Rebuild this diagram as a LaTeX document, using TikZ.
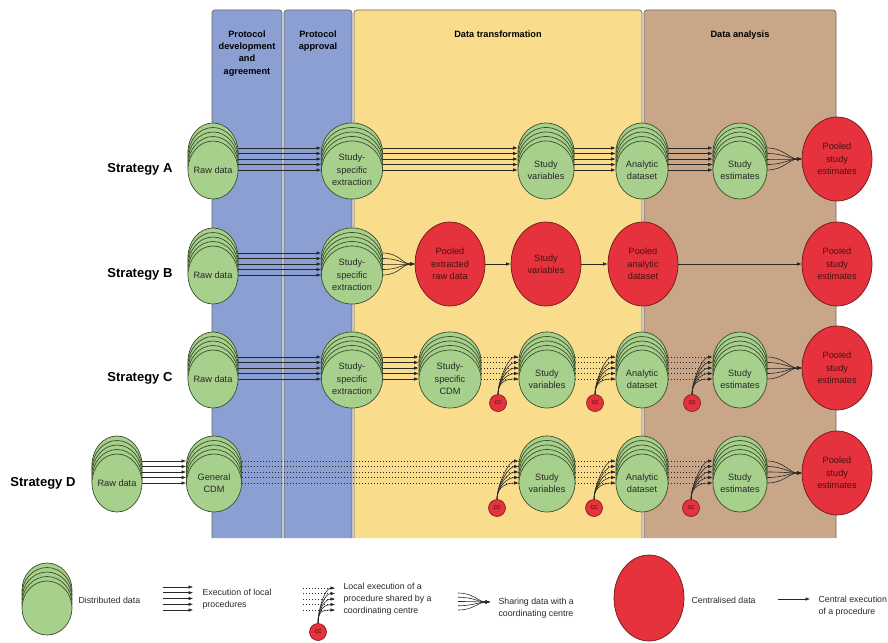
\documentclass[tikz,border=0pt]{standalone}
\usepackage{fontspec}
\setmainfont{Liberation Sans}
\usetikzlibrary{shapes.geometric,shadows,positioning,arrows.meta}

\definecolor{distgreen}{RGB}{168,208,141}
\definecolor{greenedge}{RGB}{60,78,44}
\definecolor{centralred}{RGB}{229,50,60}
\definecolor{rededge}{RGB}{110,25,25}
\definecolor{redtext}{RGB}{70,18,18}
\definecolor{bandblue}{RGB}{139,159,211}
\definecolor{bandyellow}{RGB}{250,221,140}
\definecolor{bandbrown}{RGB}{202,166,137}
\definecolor{bandedge}{RGB}{105,105,105}
\definecolor{inkgrey}{RGB}{40,40,40}

\tikzset{
	band/.style={draw=bandedge, line width=0.7pt},
	header/.style={font=\bfseries\fontsize{9.2}{12.3}\selectfont, align=center, anchor=north},
	strategy/.style={font=\bfseries\fontsize{13}{15}\selectfont, anchor=east},
	backcopy/.style={general shadow={shadow scale=1, shadow xshift=0pt, shadow yshift=#1, fill=distgreen, draw=greenedge}},
	distributed/.style={ellipse, draw=greenedge, fill=distgreen, line width=0.7pt, inner xsep=-6pt, inner ysep=0pt,
		minimum height=58pt, align=center, text=inkgrey, font=\fontsize{9.2}{12.5}\selectfont,
		backcopy=18pt, backcopy=13.5pt, backcopy=9pt, backcopy=4.5pt},
	central/.style={ellipse, draw=rededge, fill=centralred, line width=0.7pt, inner sep=0pt,
		minimum width=70pt, minimum height=84pt, align=center, text=redtext, font=\fontsize{9.2}{12.5}\selectfont},
	ccnode/.style={circle, draw=rededge, fill=centralred, line width=0.6pt, minimum size=17pt, inner sep=0pt,
		text=redtext, font=\fontsize{7}{7}\selectfont},
	localarrow/.style={-{Latex[length=4.5pt,width=3.6pt]}, draw=inkgrey, line width=0.6pt},
	sharedline/.style={draw=inkgrey, line width=0.7pt, dash pattern=on 0.8pt off 2.2pt},
	legendtext/.style={font=\fontsize{8.8}{12}\selectfont, align=left, anchor=west, text=inkgrey}
}

% five parallel local runs
\newcommand{\localrun}[2]{\foreach \k in {0,...,4} \draw[localarrow] ([yshift=\k*5.5pt]#1.east) -- ([yshift=\k*5.5pt]#2.west);}
% local runs of a procedure sent by a coordinating centre
\newcommand{\ccrun}[3]{\foreach \k in {0,...,4} {
		\draw[sharedline] ([yshift=\k*5.5pt]#1.east) -- ([yshift=\k*5.5pt]#3.west);
		\draw[localarrow] (#2.north) .. controls +(0,-14) and +(-10,0) .. ([yshift=\k*5.5pt]#3.west);}}
% sharing with the coordinating centre
\newcommand{\poolrun}[2]{\foreach \k in {0,...,4} \draw[localarrow] ([yshift=\k*5.5pt]#1.east) .. controls +(16,0) and +(-12,0) .. (#2.west);}

\begin{document}
\begin{tikzpicture}[x=1pt,y=-1pt]
	
	\useasboundingbox (0,0) rectangle (888,642);
	
	%Phases
	\draw[band, fill=bandblue] (212,538) {[rounded corners=3pt] -- (212,10) -- (282,10)} -- (282,538);
	\draw[band, fill=bandblue] (284,538) {[rounded corners=3pt] -- (284,10) -- (352,10)} -- (352,538);
	\draw[band, fill=bandyellow] (354,538) {[rounded corners=3pt] -- (354,10) -- (642,10)} -- (642,538);
	\draw[band, fill=bandbrown] (644,538) {[rounded corners=3pt] -- (644,10) -- (836,10)} -- (836,538);
	
	\node[header] (devhead) at (247,27) {Protocol\\development\\and\\agreement};
	\node[header] (apphead) at (318,27) {Protocol\\approval};
	\node[header] (transhead) at (498,27) {Data transformation};
	\node[header] (anahead) at (740,27) {Data analysis};
	
	%Strategy A
	\node[strategy] (labA) at (176,169) {Strategy A};
	\node[distributed, minimum width=50pt] (rawA) at (213,170) {Raw data};
	\node[distributed, minimum width=61pt] (extA) at (352,170) {Study-\\specific\\extraction};
	\node[distributed, minimum width=56pt] (svA) at (546,170) {Study\\variables};
	\node[distributed, minimum width=52pt] (adA) at (642,170) {Analytic\\dataset};
	\node[distributed, minimum width=54pt] (seA) at (740,170) {Study\\estimates};
	\node[central] (pseA) at (837,159) {Pooled\\study\\estimates};
	\localrun{rawA}{extA}
	\localrun{extA}{svA}
	\localrun{svA}{adA}
	\localrun{adA}{seA}
	\poolrun{seA}{pseA}
	
	%Strategy B
	\node[strategy] (labB) at (176,274) {Strategy B};
	\node[distributed, minimum width=50pt] (rawB) at (213,275) {Raw data};
	\node[distributed, minimum width=61pt] (extB) at (352,275) {Study-\\specific\\extraction};
	\node[central] (pexB) at (450,264) {Pooled\\extracted\\raw data};
	\node[central] (svB) at (546,264) {Study\\variables};
	\node[central] (padB) at (643,264) {Pooled\\analytic\\dataset};
	\node[central] (pseB) at (837,264) {Pooled\\study\\estimates};
	\localrun{rawB}{extB}
	\poolrun{extB}{pexB}
	\draw[localarrow] (pexB) -- (svB);
	\draw[localarrow] (svB) -- (padB);
	\draw[localarrow] (padB) -- (pseB);
	
	%Strategy C
	\node[strategy] (labC) at (176,378) {Strategy C};
	\node[distributed, minimum width=50pt] (rawC) at (213,379) {Raw data};
	\node[distributed, minimum width=61pt] (extC) at (352,379) {Study-\\specific\\extraction};
	\node[distributed, minimum width=62pt] (cdmC) at (450,379) {Study-\\specific\\CDM};
	\node[distributed, minimum width=56pt] (svC) at (547,379) {Study\\variables};
	\node[distributed, minimum width=52pt] (adC) at (642,379) {Analytic\\dataset};
	\node[distributed, minimum width=54pt] (seC) at (740,379) {Study\\estimates};
	\node[central] (pseC) at (837,368) {Pooled\\study\\estimates};
	\node[ccnode] (ccCa) at (498,403) {cc};
	\node[ccnode] (ccCb) at (595,403) {cc};
	\node[ccnode] (ccCc) at (692,403) {cc};
	\localrun{rawC}{extC}
	\localrun{extC}{cdmC}
	\ccrun{cdmC}{ccCa}{svC}
	\ccrun{svC}{ccCb}{adC}
	\ccrun{adC}{ccCc}{seC}
	\poolrun{seC}{pseC}
	
	%Strategy D
	\node[strategy] (labD) at (79,483) {Strategy D};
	\node[distributed, minimum width=50pt] (rawD) at (117,483) {Raw data};
	\node[distributed, minimum width=55pt] (cdmD) at (214,483) {General\\CDM};
	\node[distributed, minimum width=56pt] (svD) at (547,483) {Study\\variables};
	\node[distributed, minimum width=52pt] (adD) at (642,483) {Analytic\\dataset};
	\node[distributed, minimum width=54pt] (seD) at (740,483) {Study\\estimates};
	\node[central] (pseD) at (837,473) {Pooled\\study\\estimates};
	\node[ccnode] (ccDa) at (497,508) {cc};
	\node[ccnode] (ccDb) at (594,508) {cc};
	\node[ccnode] (ccDc) at (691,508) {cc};
	\localrun{rawD}{cdmD}
	\ccrun{cdmD}{ccDa}{svD}
	\ccrun{svD}{ccDb}{adD}
	\ccrun{adD}{ccDc}{seD}
	\poolrun{seD}{pseD}
	
	%Legend
	\node[distributed, minimum width=50pt, minimum height=54pt] (legdist) at (47,608) {};
	\node[legendtext] (legdisttext) at (75,600) {Distributed data};
	
	\coordinate (legexA) at (163,587);
	\coordinate (legexB) at (193,587);
	\foreach \k in {0,...,4} \draw[localarrow] ([yshift=-\k*5.75pt]legexA) -- ([yshift=-\k*5.75pt]legexB);
	\node[legendtext] (legextext) at (199,599) {Execution of local\\procedures};
	
	\coordinate (legccA) at (303,588);
	\coordinate (legccB) at (335,588);
	\node[ccnode] (legcc) at (318,632) {cc};
	\foreach \k in {0,...,4} {
		\draw[sharedline] ([yshift=-\k*5.5pt]legccA) -- ([yshift=-\k*5.5pt]legccB);
		\draw[localarrow] (legcc.north) .. controls +(0,-14) and +(-10,0) .. ([yshift=-\k*5.5pt]legccB);}
	\node[legendtext] (legcctext) at (340,599) {Local execution of a\\procedure shared by a\\coordinating centre};
	
	\coordinate (legshA) at (458,593);
	\coordinate (legshB) at (490,602);
	\foreach \k in {0,...,4} \draw[localarrow] ([yshift=-\k*4.25pt]legshA) .. controls +(16,0) and +(-12,0) .. (legshB);
	\node[legendtext] (legshtext) at (495,608) {Sharing data with a\\coordinating centre};
	
	\node[central, minimum height=86pt] (legcentral) at (649,598) {};
	\node[legendtext] (legcentext) at (688,600) {Centralised data};
	
	\coordinate (legcexA) at (778,599);
	\coordinate (legcexB) at (810,599);
	\draw[localarrow] (legcexA) -- (legcexB);
	\node[legendtext] (legcextext) at (815,606) {Central execution\\of a procedure};
	
\end{tikzpicture}
\end{document}
